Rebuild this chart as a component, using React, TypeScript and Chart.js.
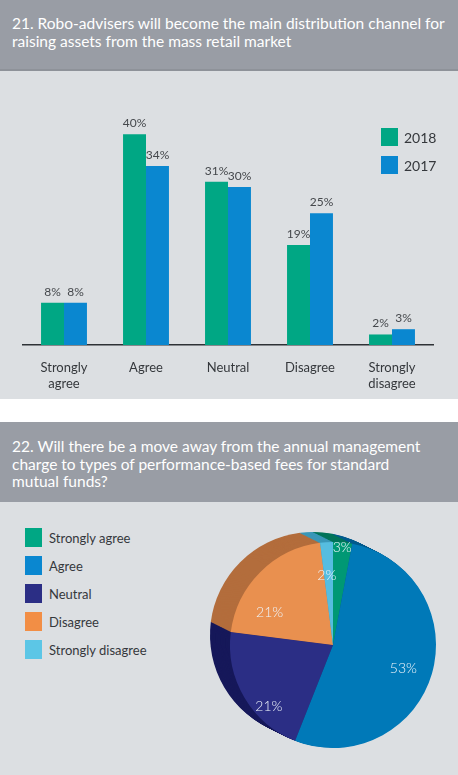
import React, { useEffect, useRef } from "react";
import { Chart, registerables } from "chart.js";
Chart.register(...registerables);

// ---------- data ----------
const barCategories: (string | string[])[] = [["Strongly", "agree"], "Agree", "Neutral", "Disagree", ["Strongly", "disagree"]];
const barSeriesNames = ["2018", "2017"];
const series2018 = [8, 40, 31, 19, 2];
const series2017 = [8, 34, 30, 25, 3];

const pieCategories = ["Strongly agree", "Agree", "Neutral", "Disagree", "Strongly disagree"];
const pieValues = [3, 53, 21, 21, 2];

const title1 = ["21. Robo-advisers will become the main distribution channel for", "raising assets from the mass retail market"];
const title2 = ["22. Will there be a move away from the annual management", "charge to types of performance-based fees for standard", "mutual funds?"];

// ---------- styles ----------
const FONT = "Lato, 'Open Sans', sans-serif";
const GREEN = "#00a784";
const BLUE = "#0a87d0";
const BAR_COLORS = [GREEN, BLUE];
const PIE_COLORS = ["#009874", "#0079b8", "#2b2e85", "#e9904f", "#56bde0"];
const PIE_LEGEND_COLORS = ["#00a784", "#0a87d0", "#2b2e85", "#f28e45", "#5cc6e6"];
const PIE_SIDE_COLORS = ["#00745a", "#005c8e", "#16185a", "#b36d3c", "#3a97b8"];
const PIE_LABEL_RADIUS = [0.95, 0.72, 0.86, 0.69, 0.68];
const PIE_LABEL_SHIFT_DEG = [0, 2, -13, -18, -1.5];
const HEADER_BG = "#999da5";
const PANEL_BG = "#dcdfe2";
const TEXT = "#35383c";

const barLabelPlugin = {
  id: "barLabels",
  afterDatasetsDraw(chart: any) {
    const ctx = chart.ctx;
    ctx.save();
    ctx.font = `12px ${FONT}`;
    ctx.fillStyle = "#45484c";
    ctx.textAlign = "center";
    ctx.textBaseline = "middle";
    chart.data.datasets.forEach((ds: any, di: number) => {
      const meta = chart.getDatasetMeta(di);
      meta.data.forEach((bar: any, i: number) => {
        ctx.fillText(`${ds.data[i]}%`, bar.x, bar.y - 11);
      });
    });
    ctx.restore();
  },
};

const OFF_X = -20;
const OFF_Y = -10;
const STEPS = 24;

const pieSidePlugin = {
  id: "pieSide",
  beforeDatasetsDraw(chart: any) {
    const ctx = chart.ctx;
    const meta = chart.getDatasetMeta(0);
    ctx.save();
    for (let k = STEPS; k >= 1; k--) {
      const dx = (OFF_X * k) / STEPS;
      const dy = (OFF_Y * k) / STEPS;
      meta.data.forEach((arc: any, i: number) => {
        const p = arc.getProps(["x", "y", "startAngle", "endAngle", "outerRadius"], true);
        ctx.beginPath();
        ctx.moveTo(p.x + dx, p.y + dy);
        ctx.arc(p.x + dx, p.y + dy, p.outerRadius, p.startAngle, p.endAngle);
        ctx.closePath();
        ctx.fillStyle = PIE_SIDE_COLORS[i];
        ctx.fill();
      });
    }
    ctx.restore();
  },
  afterDatasetsDraw(chart: any) {
    const ctx = chart.ctx;
    const meta = chart.getDatasetMeta(0);
    const ds = chart.data.datasets[0];
    ctx.save();
    ctx.font = `300 14px ${FONT}`;
    ctx.fillStyle = "#eef4fa";
    ctx.textAlign = "center";
    ctx.textBaseline = "middle";
    meta.data.forEach((arc: any, i: number) => {
      const p = arc.getProps(["x", "y", "startAngle", "endAngle", "outerRadius"], true);
      const mid = (p.startAngle + p.endAngle) / 2 + (PIE_LABEL_SHIFT_DEG[i] * Math.PI) / 180;
      const r = p.outerRadius * PIE_LABEL_RADIUS[i];
      ctx.fillText(`${ds.data[i]}%`, p.x + Math.cos(mid) * r, p.y + Math.sin(mid) * r);
    });
    ctx.restore();
  },
};

function BarChart() {
  const ref = useRef<HTMLCanvasElement>(null);
  useEffect(() => {
    const chart = new Chart(ref.current!, {
      type: "bar",
      data: {
        labels: barCategories as any,
        datasets: barSeriesNames.map((name, i) => ({
          label: name,
          data: i === 0 ? series2018 : series2017,
          backgroundColor: BAR_COLORS[i],
          barPercentage: 1,
          categoryPercentage: 0.56,
        })),
      },
      options: {
        animation: false,
        responsive: false,
        maintainAspectRatio: false,
        layout: { padding: { left: 23, right: 25, top: 38, bottom: 0 } },
        plugins: { legend: { display: false }, tooltip: { enabled: false } },
        scales: {
          x: {
            grid: { display: false },
            border: { display: true, color: "#2e3236", width: 1.5 },
            ticks: { color: TEXT, font: { family: FONT, size: 13 }, padding: 7, maxRotation: 0, autoSkip: false },
            afterFit: (s: any) => {
              s.height = 55;
            },
          },
          y: { display: false, min: 0, max: 45 },
        },
      } as any,
      plugins: [barLabelPlugin],
    });
    return () => chart.destroy();
  }, []);
  return <canvas ref={ref} width={458} height={330} style={{ position: "absolute", left: 0, top: 70, width: 458, height: 330 }} />;
}

function PieChart() {
  const ref = useRef<HTMLCanvasElement>(null);
  useEffect(() => {
    const chart = new Chart(ref.current!, {
      type: "pie",
      data: {
        labels: pieCategories,
        datasets: [{ data: pieValues, backgroundColor: PIE_COLORS, borderWidth: 0 }],
      },
      options: {
        animation: false,
        responsive: false,
        maintainAspectRatio: false,
        layout: { padding: { left: 50, right: 22, top: 40, bottom: 27 } },
        plugins: { legend: { display: false }, tooltip: { enabled: false } },
      } as any,
      plugins: [pieSidePlugin],
    });
    return () => chart.destroy();
  }, []);
  return <canvas ref={ref} width={278} height={273} style={{ position: "absolute", left: 180, top: 502, width: 278, height: 273 }} />;
}

export default function App() {
  const titleStyle: React.CSSProperties = {
    position: "absolute",
    left: 12,
    color: "#ffffff",
    fontFamily: FONT,
    fontSize: 15.5,
    whiteSpace: "nowrap",
  };
  return (
    <div style={{ position: "absolute", left: 0, top: 0, width: 458, height: 775, background: "#ffffff", overflow: "hidden", fontFamily: FONT }}>
      {/* Panel 1 */}
      <div style={{ position: "absolute", left: 0, top: 0, width: 458, height: 69, background: HEADER_BG }} />
      <div style={{ position: "absolute", left: 0, top: 69, width: 458, height: 2, background: "#8e9299" }} />
      <div style={{ position: "absolute", left: 0, top: 71, width: 458, height: 328, background: PANEL_BG }} />
      <div style={{ ...titleStyle, top: 14, lineHeight: "18px" }}>
        {title1.map((t, i) => (
          <div key={i}>{t}</div>
        ))}
      </div>
      <BarChart />
      {barSeriesNames.map((n, i) => (
        <div key={n} style={{ position: "absolute", left: 381, top: 128 + i * 28, height: 18, display: "flex", alignItems: "center" }}>
          <div style={{ width: 17, height: 18, background: BAR_COLORS[i] }} />
          <div style={{ marginLeft: 6, fontSize: 14, color: TEXT }}>{n}</div>
        </div>
      ))}

      {/* Panel 2 */}
      <div style={{ position: "absolute", left: 0, top: 422, width: 458, height: 80, background: HEADER_BG }} />
      <div style={{ position: "absolute", left: 0, top: 502, width: 458, height: 273, background: PANEL_BG }} />
      <div style={{ ...titleStyle, top: 438, lineHeight: "17.5px" }}>
        {title2.map((t, i) => (
          <div key={i}>{t}</div>
        ))}
      </div>
      {pieCategories.map((n, i) => (
        <div key={n} style={{ position: "absolute", left: 25, top: 528 + i * 28, height: 19, display: "flex", alignItems: "center" }}>
          <div style={{ width: 17, height: 19, background: PIE_LEGEND_COLORS[i] }} />
          <div style={{ marginLeft: 7, fontSize: 13, color: TEXT }}>{n}</div>
        </div>
      ))}
      <PieChart />
    </div>
  );
}
